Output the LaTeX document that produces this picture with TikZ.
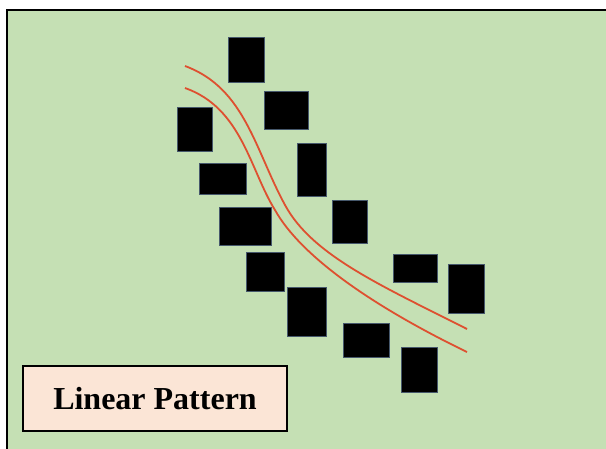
\documentclass[tikz,border=0pt]{standalone}
\usepackage{fontspec}
\setmainfont{Liberation Serif}
\definecolor{fieldgreen}{HTML}{C5E0B4}
\definecolor{labelpeach}{HTML}{FBE5D6}
\definecolor{pathred}{RGB}{222,80,48}
\definecolor{blkedge}{RGB}{70,88,108}

\begin{document}
\begin{tikzpicture}[
  x=1pt, y=-1pt,
  blk/.style={fill=black, draw=blkedge, line width=0.8pt},
  track/.style={draw=pathred, line width=1.8pt},
  tag/.style={draw=black, fill=labelpeach, line width=1.2pt, minimum width=264pt,
    minimum height=65pt, inner sep=0pt, font=\fontsize{32}{38}\selectfont\bfseries},
]
  \useasboundingbox (0,0) rectangle (606,448);
  \clip (0,0) rectangle (606,448);
  \fill[white] (0,0) rectangle (606,448);
  \draw[fill=fieldgreen, line width=1.6pt] (7,10) rectangle (616,460);

  % blocks along the path
  \fill[blk] (228,37) rectangle (264,82);
  \fill[blk] (264,91) rectangle (308,129);
  \fill[blk] (177,107) rectangle (212,151);
  \fill[blk] (297,143) rectangle (326,196);
  \fill[blk] (199,163) rectangle (246,194);
  \fill[blk] (332,200) rectangle (367,243);
  \fill[blk] (219,207) rectangle (271,245);
  \fill[blk] (246,252) rectangle (284,291);
  \fill[blk] (287,287) rectangle (326,336);
  \fill[blk] (343,323) rectangle (389,357);
  \fill[blk] (393,254) rectangle (437,282);
  \fill[blk] (448,264) rectangle (484,313);
  \fill[blk] (401,347) rectangle (437,392);

  % the two lines
  \coordinate (upA) at (185,66);
  \coordinate (upB) at (285,205);
  \coordinate (upC) at (467,329);
  \coordinate (loA) at (185,88);
  \coordinate (loB) at (275,210);
  \coordinate (loC) at (467,352);
  \draw[track] (upA) .. controls (245,88) and (255,150) .. (upB)
    .. controls (312,255) and (380,285) .. (upC);
  \draw[track] (loA) .. controls (242,108) and (250,170) .. (loB)
    .. controls (300,255) and (370,305) .. (loC);

  \node[tag] (caption) at (155,398.5) {Linear Pattern};
\end{tikzpicture}
\end{document}
